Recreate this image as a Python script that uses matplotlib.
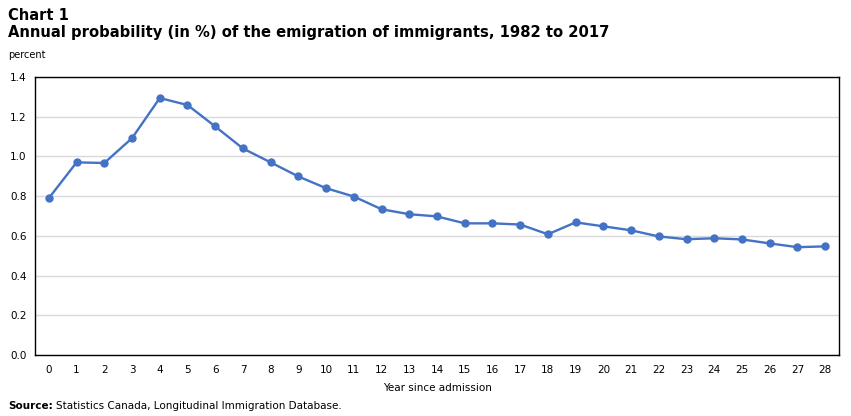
import matplotlib
matplotlib.use("Agg")
import matplotlib.pyplot as plt
from matplotlib.transforms import offset_copy

years = list(range(29))
probability = [0.790, 0.970, 0.967, 1.092, 1.294, 1.259, 1.151, 1.040, 0.970, 0.899,
               0.840, 0.798, 0.734, 0.709, 0.698, 0.663, 0.663, 0.657, 0.608, 0.668,
               0.648, 0.628, 0.597, 0.583, 0.588, 0.582, 0.562, 0.543, 0.547]
yticks = [0.0, 0.2, 0.4, 0.6, 0.8, 1.0, 1.2, 1.4]

plt.rcParams['font.family'] = ['DejaVu Sans']

fig = plt.figure(figsize=(8.51, 4.16), dpi=100)
ax = fig.add_axes([35/851, 1-355/416, (839-35)/851, (355-77)/416])

ax.plot(years, probability, color='#4472C4', linewidth=1.7, marker='o', markersize=5, zorder=3)

ax.set_xlim(-0.5, 28.5)
ax.set_ylim(0, 1.4)
ax.set_yticks(yticks)
ax.set_yticklabels([f"{v:.1f}" for v in yticks])
ax.set_xticks(years)
ax.set_xticklabels([str(y) for y in years])
ax.tick_params(axis='both', length=0, labelsize=7.5, colors='#000000')
ax.tick_params(axis='x', pad=7)
ax.tick_params(axis='y', pad=6)
ax.grid(axis='y', color='#d9d9d9', linewidth=1)
ax.set_axisbelow(True)
for s in ax.spines.values():
    s.set_color('black')
    s.set_linewidth(1)

ax.set_xlabel('Year since admission', fontsize=7.5, labelpad=6)

fig.text(8/851, 1-15/416, 'Chart 1', fontsize=10.5, fontweight='bold', va='center', ha='left')
fig.text(8/851, 1-33/416, 'Annual probability (in %) of the emigration of immigrants, 1982 to 2017',
         fontsize=10.6, fontweight='bold', va='center', ha='left')
fig.text(8/851, 1-55/416, 'percent', fontsize=7, va='center', ha='left')

src = fig.text(8/851, 1-406/416, 'Source:', fontsize=7.5, fontweight='bold', va='center', ha='left')
fig.canvas.draw()
bb = src.get_window_extent()
fig.text((bb.x1 + 3)/851, 1-406/416, 'Statistics Canada, Longitudinal Immigration Database.',
         fontsize=7.5, va='center', ha='left')

fig.savefig('out.png', dpi=100)
